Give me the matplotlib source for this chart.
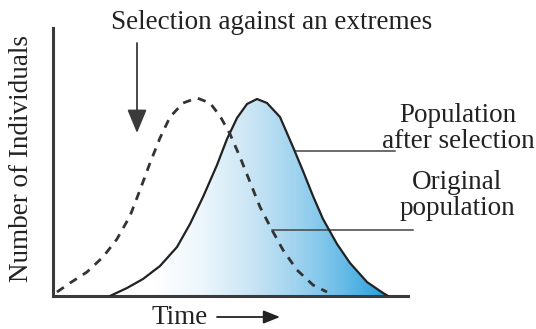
import numpy as np
import matplotlib.pyplot as plt
from matplotlib.colors import LinearSegmentedColormap
from matplotlib.patches import Polygon

plt.rcParams['font.family'] = ['Liberation Serif', 'DejaVu Serif']

# population curves (time, number of individuals), arbitrary units
after_t = [57, 74, 90, 107, 124, 137, 150, 164, 174, 184, 194, 204, 214,
           227, 240, 250, 260, 270, 284, 297, 314, 330, 335]
after_n = [0, 8, 17, 30, 49, 72, 99, 131, 157, 178, 192, 197, 193,
           179, 149, 125, 100, 77, 52, 33, 14, 3, 0]

orig_t = [4, 17, 34, 50, 64, 77, 87, 97, 107, 117, 130, 144, 157,
          167, 177, 187, 197, 207, 219, 230, 244, 260, 274]
orig_n = [4, 13, 24, 39, 57, 80, 106, 133, 158, 179, 193, 198, 193,
          180, 162, 139, 114, 89, 66, 46, 26, 11, 4]

title = 'Selection against an extremes'
ylabel = 'Number of Individuals'
xlabel = 'Time'
label_after = 'Population\nafter selection'
label_orig = 'Original\npopulation'

W, H = 536, 329
fig = plt.figure(figsize=(W / 100, H / 100), dpi=100)
ax = fig.add_axes([53 / W, 1 - 296 / H, 355 / W, 268 / H])
ax.set_xlim(0, 355)
ax.set_ylim(0, 268)
ax.set_xticks([])
ax.set_yticks([])
for side in ['top', 'right']:
    ax.spines[side].set_visible(False)
for side in ['left', 'bottom']:
    ax.spines[side].set_linewidth(2.2)
    ax.spines[side].set_color('#3a3a3a')

# gradient fill under the selected population
cmap = LinearSegmentedColormap.from_list(
    'blues', [(0.0, '#ffffff'), (0.15, '#ffffff'), (0.32, '#eef7fc'),
              (0.5, '#cce6f5'), (0.68, '#9dd2ef'), (0.83, '#6cbde8'),
              (1.0, '#22a0db')])
grad = np.linspace(0, 1, 256).reshape(1, -1)
img = ax.imshow(grad, cmap=cmap, aspect='auto',
                extent=[min(after_t), max(after_t), 0, max(after_n)],
                zorder=1)
poly = Polygon(np.column_stack([after_t, after_n]), closed=True,
               transform=ax.transData, facecolor='none', edgecolor='none')
ax.add_patch(poly)
img.set_clip_path(poly)

ax.plot(after_t, after_n, color='#222222', lw=1.6, zorder=3,
        solid_joinstyle='round')
ax.plot(orig_t, orig_n, color='#333333', lw=2.0, ls=(0, (3, 2.6)), zorder=3)

# leader lines to the labels
ax.plot([242, 342], [145, 145], color='#444444', lw=1.1, clip_on=False)
ax.plot([219, 360], [66, 66], color='#444444', lw=1.1, clip_on=False)

# selection arrow
ax.annotate('', xy=(84, 163), xytext=(84, 253),
            arrowprops=dict(arrowstyle='-|>,head_length=1.45,head_width=0.6',
                            mutation_scale=10, color='#3a3a3a', lw=1.3,
                            shrinkA=0, shrinkB=0),
            annotation_clip=False)

fs = 19.5
fig.text(272 / W, 1 - 29 / H, title, ha='center', va='baseline',
         fontsize=fs, color='#222222')
fig.text(22 / W, 1 - 158 / H, ylabel, ha='center', va='center',
         rotation=90, fontsize=fs, color='#222222')
fig.text(152 / W, 1 - 324 / H, xlabel, ha='left', va='baseline',
         fontsize=fs, color='#222222')
fig.text(458 / W, 1 - 148 / H, label_after, ha='center', va='baseline',
         fontsize=fs, color='#222222', linespacing=1.05)
fig.text(457 / W, 1 - 215 / H, label_orig, ha='center', va='baseline',
         fontsize=fs, color='#222222', linespacing=1.05)

# time arrow
ax.annotate('', xy=(280, H - 317), xytext=(217, H - 317),
            xycoords='figure pixels', textcoords='figure pixels',
            arrowprops=dict(arrowstyle='-|>,head_length=1.0,head_width=0.4',
                            mutation_scale=10, color='#222222', lw=1.3,
                            shrinkA=0, shrinkB=0),
            annotation_clip=False)

fig.savefig('out.png', dpi=100)
